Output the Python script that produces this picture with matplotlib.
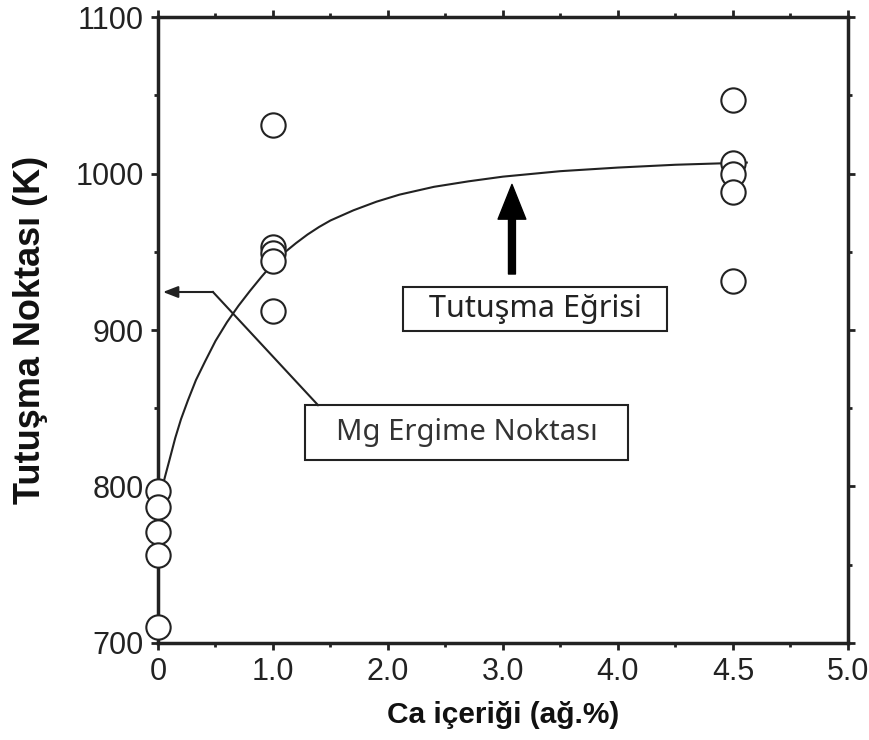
import numpy as np
import matplotlib
matplotlib.use('Agg')
import matplotlib.pyplot as plt
from matplotlib.patches import Rectangle, FancyArrowPatch
from matplotlib.ticker import FixedLocator

# x axis is not linear: tick values sit on equally spaced positions
x_tick_vals = [0, 1.0, 2.0, 3.0, 4.0, 4.5, 5.0]
x_tick_labels = ['0', '1.0', '2.0', '3.0', '4.0', '4.5', '5.0']
x_minor_vals = [0.5, 1.5, 2.5, 3.5, 4.25, 4.75]

# measured ignition points (K) per Ca content (wt.%)
ca_content = [0, 1.0, 4.5]
ign_ca0 = [797, 787, 771, 756, 710]
ign_ca1 = [1031, 953, 949, 944, 912]
ign_ca45 = [1047, 1007, 1000, 988, 931]

# ignition curve
curve_ca = [0.03, 0.06, 0.10, 0.15, 0.20, 0.26, 0.33, 0.41, 0.50, 0.60,
            0.70, 0.80, 0.90, 1.0, 1.1, 1.2, 1.3, 1.4, 1.5, 1.7,
            1.9, 2.1, 2.4, 2.7, 3.0, 3.5, 4.0, 4.25, 4.56]
curve_k = [797, 806, 817, 831, 843, 855, 868, 880, 893, 905,
           915.5, 925, 934, 942.5, 949.5, 955.5, 961, 965.8, 970, 976.5,
           982, 986.5, 991.5, 995, 998, 1001.5, 1003.8, 1005.6, 1007]

mg_melt = 923

pos = np.arange(len(x_tick_vals))


def fwd(x):
    return np.interp(x, x_tick_vals, pos)


def inv(p):
    return np.interp(p, pos, x_tick_vals)


fig = plt.figure(figsize=(8.7, 7.4), dpi=100)
ax = fig.add_axes([0.1816, 0.1311, 0.7931, 0.8459])
ax.set_xscale('function', functions=(fwd, inv))
ax.set_xlim(0, 5.0)
ax.set_ylim(700, 1100)

# curve
ax.plot(curve_ca, curve_k, color='#222222', lw=1.5, zorder=2,
        solid_joinstyle='round')

# points
mk = dict(marker='o', ms=17.5, mfc='white', mec='#222222', mew=1.5, ls='none',
          clip_on=False, zorder=3)
for c, vals in zip(ca_content, [ign_ca0, ign_ca1, ign_ca45]):
    ax.plot([c] * len(vals), vals, **mk)

# ticks
ax.xaxis.set_major_locator(FixedLocator(x_tick_vals))
ax.xaxis.set_minor_locator(FixedLocator(x_minor_vals))
ax.set_xticklabels(x_tick_labels)
ax.set_yticks([700, 800, 900, 1000, 1100])
ax.yaxis.set_minor_locator(FixedLocator([750, 850, 950, 1050]))
ax.tick_params(which='both', direction='out', top=True, right=True,
               width=2, color='#222222')
ax.tick_params(which='major', length=5, labelsize=22, pad=5,
               labelcolor='#222222')
ax.tick_params(which='minor', length=3)
for lab in ax.get_xticklabels() + ax.get_yticklabels():
    lab.set_fontfamily('Liberation Sans')
for s in ax.spines.values():
    s.set_linewidth(2.5)
    s.set_color('#222222')

ax.set_xlabel('Ca içeriği (ağ.%)', fontsize=21.5, fontweight='bold',
              family='Liberation Sans', labelpad=10, color='#111111')
ax.set_ylabel('Tutuşma Noktası (K)', fontsize=26, fontweight='bold',
              family='Liberation Sans', labelpad=20, color='#111111')

# "Tutuşma Eğrisi" box and arrow
ax.add_patch(Rectangle((0.355, 0.498), 0.383, 0.071, transform=ax.transAxes,
                       fill=False, ec='#222222', lw=1.5))
ax.text(0.5465, 0.5335, 'Tutuşma Eğrisi', transform=ax.transAxes,
        ha='center', va='center', fontsize=22, family='Noto Sans',
        color='#222222')
ax.add_patch(FancyArrowPatch((0.513, 0.585), (0.513, 0.737),
                             transform=ax.transAxes,
                             arrowstyle='simple,head_length=1.25,head_width=1.0,tail_width=0.25',
                             mutation_scale=20, color='black'))

# "Mg Ergime Noktası" box and arrow
ax.add_patch(Rectangle((0.213, 0.292), 0.468, 0.088, transform=ax.transAxes,
                       fill=False, ec='#222222', lw=1.5))
ax.text(0.447, 0.336, 'Mg Ergime Noktası', transform=ax.transAxes,
        ha='center', va='center', fontsize=21, family='Noto Sans',
        color='#333333')
ax.plot([0.2319, 0.0797], [0.380, 0.5607], transform=ax.transAxes,
        color='#222222', lw=1.5)
ax.annotate('', xy=(0.0072, 0.5607), xytext=(0.0797, 0.5607),
            xycoords='axes fraction',
            arrowprops=dict(arrowstyle='-|>,head_length=0.9,head_width=0.35',
                            color='#222222', lw=1.5, shrinkA=0, shrinkB=0))

fig.savefig('out.png', dpi=100)
